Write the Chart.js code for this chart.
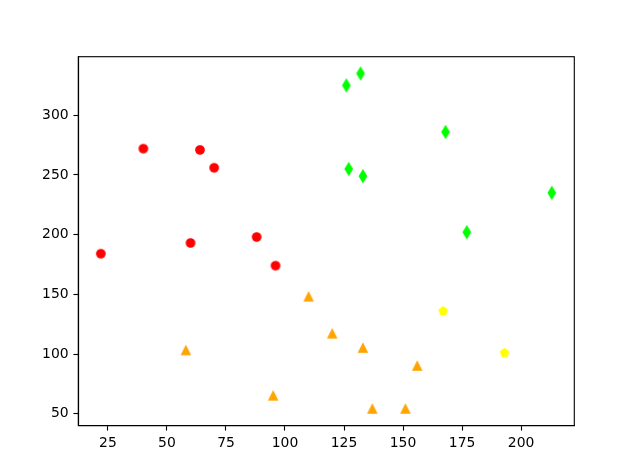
<!DOCTYPE html>
<html><head><meta charset="utf-8">
<script src="https://cdn.jsdelivr.net/npm/chart.js@4"></script>
<style>html,body{margin:0;padding:0;background:#fff}</style>
</head><body>
<canvas id="c" width="632" height="476"></canvas>
<script>
// ---- data ----
const redX = [22, 40, 60, 64, 70, 88, 96];
const redY = [184, 272, 193, 271, 256, 198, 174];
const orangeX = [58, 95, 110, 120, 133, 137, 151, 156];
const orangeY = [103, 65, 148, 117, 105, 54, 54, 90];
const yellowX = [167, 193];
const yellowY = [136, 101];
const greenX = [126, 127, 132, 133, 168, 177, 213];
const greenY = [325, 255, 335, 249, 286, 202, 235];
const xTicks = [25, 50, 75, 100, 125, 150, 175, 200];
const yTicks = [50, 100, 150, 200, 250, 300];

// ---- marker images (matplotlib-like shapes) ----
const MS = 8.33, EW = 1.39;
function marker(color, shape) {
  const c = document.createElement('canvas');
  c.width = 16; c.height = 16;
  const g = c.getContext('2d');
  g.translate(8, 8);
  g.fillStyle = color; g.strokeStyle = color; g.lineWidth = EW; g.lineJoin = 'miter';
  g.beginPath();
  const h = MS / 2;
  if (shape === 'circle') {
    g.arc(0, 0, h, 0, Math.PI * 2);
  } else if (shape === 'tri') {
    g.moveTo(0, -h); g.lineTo(-h, h); g.lineTo(h, h); g.closePath();
  } else if (shape === 'thin') {
    const d = MS * Math.SQRT1_2;
    g.moveTo(0, -d); g.lineTo(0.6 * d, 0); g.lineTo(0, d); g.lineTo(-0.6 * d, 0); g.closePath();
  } else if (shape === 'pent') {
    for (let i = 0; i < 5; i++) {
      const a = -Math.PI / 2 + i * 2 * Math.PI / 5;
      const px = h * Math.cos(a), py = h * Math.sin(a);
      if (i === 0) g.moveTo(px, py); else g.lineTo(px, py);
    }
    g.closePath();
  }
  g.fill(); g.stroke();
  return c;
}

function pts(xs, ys) { return xs.map((x, i) => ({ x: x, y: ys[i] })); }
const allX = redX.concat(orangeX, yellowX, greenX);
const allY = redY.concat(orangeY, yellowY, greenY);
function lim(a) {
  const mn = Math.min(...a), mx = Math.max(...a), m = 0.05 * (mx - mn);
  return [mn - m, mx + m];
}
const [xMin, xMax] = lim(allX);
const [yMin, yMax] = lim(allY);

const LW = 1.11;
const tickFont = { family: 'DejaVu Sans', size: 13.9 };

const frame = {
  id: 'frame',
  afterDraw(chart) {
    const a = chart.chartArea, g = chart.ctx;
    g.save();
    g.strokeStyle = '#000'; g.lineWidth = LW;
    g.strokeRect(a.left, a.top, a.right - a.left, a.bottom - a.top);
    g.restore();
  }
};

function ds(xs, ys, color, shape) {
  const img = marker(color, shape);
  return { data: pts(xs, ys), pointStyle: img, pointRadius: 5, backgroundColor: color, borderColor: color, showLine: false };
}

new Chart(document.getElementById('c'), {
  type: 'scatter',
  data: { datasets: [
      ds(redX, redY, '#ff0000', 'circle'),
      ds(orangeX, orangeY, '#ffa500', 'tri'),
      ds(yellowX, yellowY, '#ffff00', 'pent'),
      ds(greenX, greenY, '#00ff00', 'thin') ] },
  options: {
    responsive: false, animation: false, devicePixelRatio: 1,
    layout: { padding: { left: 0, right: 57.7, top: 56.7, bottom: 0 } },
    plugins: { legend: { display: false }, tooltip: { enabled: false } },
    scales: {
      x: { type: 'linear', min: xMin, max: xMax,
        afterBuildTicks: s => { s.ticks = xTicks.map(v => ({ value: v })); },
        afterFit: s => { s.height = 50.3; },
        ticks: { color: '#000', font: tickFont, padding: 4.86, autoSkip: false, maxRotation: 0, callback: v => String(v) },
        grid: { display: true, drawOnChartArea: false, drawTicks: true, tickLength: 4.86, tickColor: '#000', tickWidth: LW },
        border: { display: true, color: '#000', width: LW } },
      y: { type: 'linear', min: yMin, max: yMax,
        afterBuildTicks: s => { s.ticks = yTicks.map(v => ({ value: v })); },
        afterFit: s => { s.width = 78.3; },
        ticks: { color: '#000', font: tickFont, padding: 4.86, autoSkip: false, callback: v => String(v) },
        grid: { display: true, drawOnChartArea: false, drawTicks: true, tickLength: 4.86, tickColor: '#000', tickWidth: LW },
        border: { display: true, color: '#000', width: LW } }
    }
  },
  plugins: [frame]
});
</script>
</body></html>
